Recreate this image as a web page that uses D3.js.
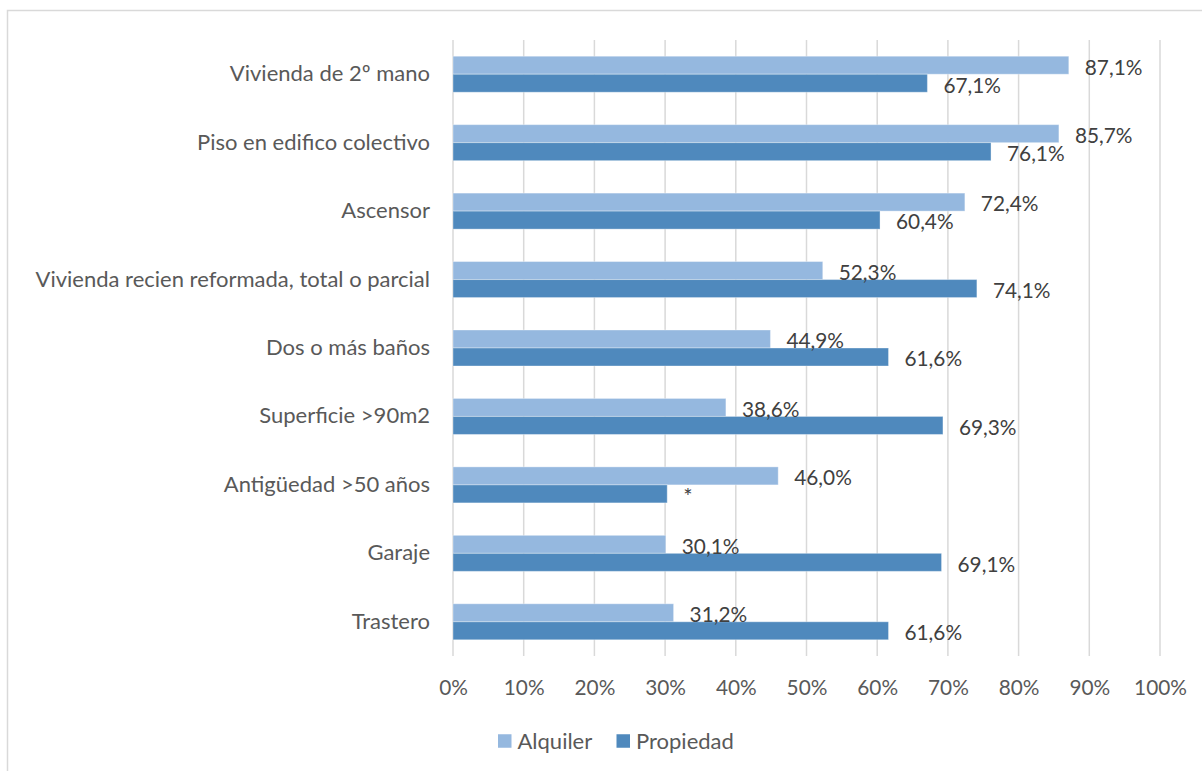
<!DOCTYPE html>
<html>
<head>
<meta charset="utf-8">
<script src="https://cdn.jsdelivr.net/npm/d3@7/dist/d3.min.js"></script>
<style>
  html, body { margin: 0; padding: 0; background: #ffffff; }
  svg { display: block; }
  text { font-family: Lato, "Open Sans", "Liberation Sans", sans-serif; }
</style>
</head>
<body>
<svg id="chart" width="1202" height="771"></svg>
<script>
// ---- data ----
const categories = [
  "Vivienda de 2º mano",
  "Piso en edifico colectivo",
  "Ascensor",
  "Vivienda recien reformada, total o parcial",
  "Dos o más baños",
  "Superficie >90m2",
  "Antigüedad >50 años",
  "Garaje",
  "Trastero"
];
const seriesNames = ["Alquiler", "Propiedad"];
const alquiler = [87.1, 85.7, 72.4, 52.3, 44.9, 38.6, 46.0, 30.1, 31.2];
const propiedad = [67.1, 76.1, 60.4, 74.1, 61.6, 69.3, 30.3, 69.1, 61.6];
const alquilerLabels = ["87,1%", "85,7%", "72,4%", "52,3%", "44,9%", "38,6%", "46,0%", "30,1%", "31,2%"];
const propiedadLabels = ["67,1%", "76,1%", "60,4%", "74,1%", "61,6%", "69,3%", "*", "69,1%", "61,6%"];
const xTicks = [0, 10, 20, 30, 40, 50, 60, 70, 80, 90, 100];
const tickLabels = ["0%", "10%", "20%", "30%", "40%", "50%", "60%", "70%", "80%", "90%", "100%"];

// ---- layout ----
const colors = { Alquiler: "#95B8DF", Propiedad: "#4F89BD" };
const plot = { left: 453, right: 1160, top: 40, bottom: 656 };
const textSize = "22px";
const numSize = "20.8px";
const svg = d3.select("#chart");

// chart area border
svg.append("rect")
  .attr("x", 7.5).attr("y", 10.5)
  .attr("width", 1210).attr("height", 800)
  .attr("fill", "none").attr("stroke", "#D9D9D9").attr("stroke-width", 1.5);

const x = d3.scaleLinear().domain([0, 100]).range([plot.left, plot.right]);
const y = d3.scaleBand().domain(categories).range([plot.top, plot.bottom]).paddingInner(0.474).paddingOuter(0.237);
const ySub = d3.scaleBand().domain(seriesNames).range([0, y.bandwidth()]);

// gridlines
svg.append("g").selectAll("line").data(xTicks).join("line")
  .attr("x1", d => x(d)).attr("x2", d => x(d))
  .attr("y1", plot.top).attr("y2", plot.bottom)
  .attr("stroke", "#D9D9D9").attr("stroke-width", 1.5);

// x axis tick labels
const xAxis = d3.axisBottom(x).tickValues(xTicks).tickFormat((d, i) => tickLabels[i]).tickSize(0).tickPadding(0);
const gx = svg.append("g").attr("transform", `translate(0, ${plot.bottom})`).call(xAxis);
gx.select(".domain").remove();
gx.selectAll("text")
  .attr("y", 32).attr("dy", "0.35em")
  .attr("fill", "#595959").style("font-size", numSize)
  .style("font-family", "Lato, 'Open Sans', sans-serif");

// y axis category labels
const yAxis = d3.axisLeft(y).tickSize(0).tickPadding(23);
const gy = svg.append("g").attr("transform", `translate(${plot.left}, 0)`).call(yAxis);
gy.select(".domain").remove();
gy.selectAll("text")
  .attr("fill", "#595959").style("font-size", textSize)
  .style("font-family", "Lato, 'Open Sans', sans-serif");

// bars
const rows = categories.map((c, i) => ({
  cat: c,
  vals: [
    { s: "Alquiler", v: alquiler[i], label: alquilerLabels[i] },
    { s: "Propiedad", v: propiedad[i], label: propiedadLabels[i] }
  ]
}));

const groups = svg.append("g").selectAll("g").data(rows).join("g")
  .attr("transform", d => `translate(0, ${y(d.cat)})`);

groups.selectAll("rect").data(d => d.vals).join("rect")
  .attr("x", x(0))
  .attr("y", d => ySub(d.s))
  .attr("width", d => x(d.v) - x(0))
  .attr("height", ySub.bandwidth())
  .attr("fill", d => colors[d.s])
  .attr("stroke", "rgba(255,255,255,0.35)").attr("stroke-width", 1);

// data labels (drawn above all bars)
const labelLayer = svg.append("g");
rows.forEach(r => {
  r.vals.forEach(d => {
    labelLayer.append("text")
      .attr("x", x(d.v) + 16)
      .attr("y", y(r.cat) + ySub(d.s) + ySub.bandwidth() / 2 + 2)
      .attr("dy", "0.35em")
      .attr("fill", "#404040")
      .style("font-size", d.label === "*" ? textSize : numSize)
      .text(d.label);
  });
});

// legend
const legend = svg.append("g").attr("transform", "translate(498, 741)");
const legendItems = [
  { s: "Alquiler", dx: 0 },
  { s: "Propiedad", dx: 118.5 }
];
legendItems.forEach(it => {
  legend.append("rect")
    .attr("x", it.dx).attr("y", -6.75)
    .attr("width", 13.5).attr("height", 13.5)
    .attr("fill", colors[it.s]);
  legend.append("text")
    .attr("x", it.dx + 19.5).attr("y", 0).attr("dy", "0.35em")
    .attr("fill", "#595959").style("font-size", textSize)
    .text(it.s);
});
</script>
</body>
</html>
